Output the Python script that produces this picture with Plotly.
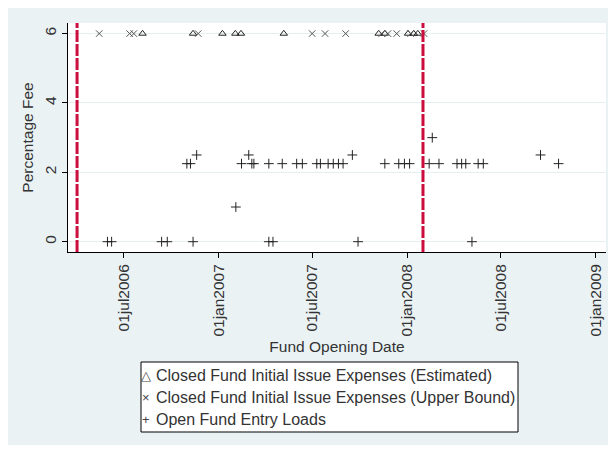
import plotly.graph_objects as go

# ---- data ----
est_dates = ["2006-08-06", "2006-11-12", "2007-01-08", "2007-02-02", "2007-02-13",
             "2007-05-07", "2007-11-07", "2007-11-19", "2008-01-03", "2008-01-14",
             "2008-01-22"]
est_fee = [6, 6, 6, 6, 6, 6, 6, 6, 6, 6, 6]

ub_dates = ["2006-05-14", "2006-07-12", "2006-07-20", "2006-11-22", "2007-07-01",
            "2007-07-26", "2007-09-04", "2007-11-13", "2007-11-25", "2007-12-12",
            "2008-01-08", "2008-02-03"]
ub_fee = [6, 6, 6, 6, 6, 6, 6, 6, 6, 6, 6, 6]

open_dates = ["2006-05-30", "2006-06-07", "2006-09-12", "2006-09-23", "2006-11-12",
              "2007-04-08", "2007-04-16", "2007-09-28", "2008-05-06",
              "2007-02-03",
              "2006-10-31", "2006-11-07", "2007-02-14", "2007-03-06", "2007-03-10",
              "2007-04-08", "2007-05-04", "2007-06-01", "2007-06-12", "2007-07-10",
              "2007-07-17", "2007-08-01", "2007-08-11", "2007-08-21", "2007-08-30",
              "2007-11-19", "2007-12-16", "2007-12-27", "2008-01-06", "2008-02-13",
              "2008-03-03", "2008-04-07", "2008-04-16", "2008-04-24", "2008-05-18",
              "2008-05-28", "2008-10-21",
              "2006-11-19", "2007-02-28", "2007-09-17", "2008-09-16",
              "2008-02-19"]
open_fee = [0, 0, 0, 0, 0, 0, 0, 0, 0,
            1,
            2.25, 2.25, 2.25, 2.25, 2.25, 2.25, 2.25, 2.25, 2.25, 2.25,
            2.25, 2.25, 2.25, 2.25, 2.25, 2.25, 2.25, 2.25, 2.25, 2.25,
            2.25, 2.25, 2.25, 2.25, 2.25, 2.25, 2.25,
            2.5, 2.5, 2.5, 2.5,
            3]

event_dates = ["2006-04-01", "2008-02-01"]

x_tick_vals = ["2006-07-01", "2007-01-01", "2007-07-01", "2008-01-01", "2008-07-01", "2009-01-01"]
x_tick_text = ["01jul2006", "01jan2007", "01jul2007", "01jan2008", "01jul2008", "01jan2009"]
y_tick_vals = [0, 2, 4, 6]

series_names = ["Closed Fund Initial Issue Expenses (Estimated)",
                "Closed Fund Initial Issue Expenses (Upper Bound)",
                "Open Fund Entry Loads"]
legend_glyphs = ["△", "×", "+"]

FONT = "Liberation Sans, Arial, sans-serif"
TXT = "#333333"
BG = "#EAF2F3"

fig = go.Figure()
fig.add_trace(go.Scatter(x=est_dates, y=est_fee, mode="markers", name=series_names[0],
                         marker=dict(symbol="triangle-up-open", size=6.5, color="#222222",
                                     line=dict(width=1))))
fig.add_trace(go.Scatter(x=ub_dates, y=ub_fee, mode="markers", name=series_names[1],
                         marker=dict(symbol="x-thin-open", size=6.5, color="#555555",
                                     line=dict(width=1, color="#555555"))))
fig.add_trace(go.Scatter(x=open_dates, y=open_fee, mode="markers", name=series_names[2],
                         marker=dict(symbol="cross-thin-open", size=7, color="#222222",
                                     line=dict(width=1, color="#222222"))))

# the page places the figure 8px from the window's top-left corner
OFF = 8
# target window-pixel geometry
L, R, T, B = 68, 606, 23, 252          # plot region
BG_R, BG_B = 609, 445                   # end of light graph region
W, H = BG_R - OFF, BG_B - OFF
pw, ph = R - L, B - T

def px_to_paper_x(px):
    return (px - L) / pw

def px_to_paper_y(py):
    return (B - py) / ph

LEG_L, LEG_R, LEG_T, LEG_B = 141, 518, 362, 432
shapes = [
    dict(type="rect", xref="paper", yref="paper", layer="above",
         x0=px_to_paper_x(LEG_L), x1=px_to_paper_x(LEG_R),
         y0=px_to_paper_y(LEG_B), y1=px_to_paper_y(LEG_T),
         fillcolor="white", line=dict(width=1, color="#000000")),
]
for d in event_dates:
    shapes.append(dict(type="line", xref="x", yref="paper", x0=d, x1=d, y0=0, y1=1,
                       line=dict(color="#CC0E3E", width=3, dash="12px,2px"), layer="above"))

annotations = []
row_y = [375, 397, 419]
for g, name, yy in zip(legend_glyphs, series_names, row_y):
    annotations.append(dict(xref="paper", yref="paper", x=px_to_paper_x(145.5), y=px_to_paper_y(yy),
                            text=g, showarrow=False, xanchor="center", yanchor="middle",
                            font=dict(size=13, color="#444444", family=FONT)))
    annotations.append(dict(xref="paper", yref="paper", x=px_to_paper_x(154), y=px_to_paper_y(yy),
                            text=name, showarrow=False, xanchor="left", yanchor="middle",
                            font=dict(size=16, color=TXT, family=FONT)))

fig.update_layout(
    width=W, height=H,
    margin=dict(l=L - OFF, r=BG_R - R, t=T - OFF, b=BG_B - B, pad=0, autoexpand=False),
    paper_bgcolor=BG, plot_bgcolor="white",
    font=dict(family=FONT, color=TXT, size=15),
    shapes=shapes,
    annotations=annotations,
    showlegend=False,
    xaxis=dict(type="date", range=["2006-03-14 10:00", "2009-01-21"],
               tickvals=x_tick_vals, ticktext=x_tick_text, tickangle=-90,
               ticks="outside", ticklen=5, tickcolor="black",
               showline=True, linecolor="black", linewidth=1, mirror=False,
               showgrid=False, zeroline=False, automargin=False,
               tickfont=dict(size=15.5, color=TXT),
               title=dict(text="Fund Opening Date", font=dict(size=15.5, color=TXT), standoff=5)),
    yaxis=dict(range=[-0.297, 6.305], tickvals=y_tick_vals, tickangle=-90,
               ticks="outside", ticklen=5, tickcolor="black",
               showline=True, linecolor="black", linewidth=1, automargin=False,
               showgrid=True, gridcolor="#E6EEEF", gridwidth=1, zeroline=False,
               tickfont=dict(size=15.5, color=TXT),
               title=dict(text="Percentage Fee", font=dict(size=15.5, color=TXT), standoff=4)),
)

fig.write_html("out.html")
